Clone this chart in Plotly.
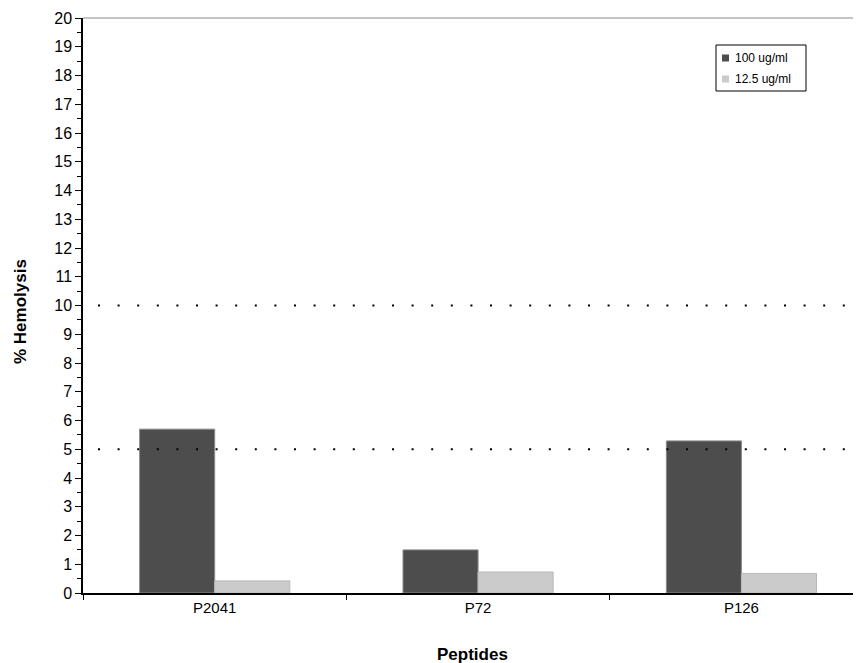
import plotly.graph_objects as go

categories = ["P2041", "P72", "P126"]
series_names = ["100 ug/ml", "12.5 ug/ml"]
series_colors = ["#4d4d4d", "#cbcbcb"]
values_100 = [5.70, 1.50, 5.29]
values_12_5 = [0.42, 0.73, 0.68]
threshold_lines = [10, 5]
y_ticks = list(range(0, 21))

OFF = 8  # page body margin
L, T, B, W, H = 83 - OFF, 18 - OFF, 70, 861 - OFF, 663 - OFF
PW, PH = W - L, H - T - B


def px(x):
    return (x - OFF - L) / PW


def py(y):
    return (H - B - (y - OFF)) / PH


fig = go.Figure()
fig.add_trace(go.Bar(x=categories, y=values_100, name=series_names[0],
                     marker=dict(color=series_colors[0], line=dict(color="#8a8a8a", width=1))))
fig.add_trace(go.Bar(x=categories, y=values_12_5, name=series_names[1],
                     marker=dict(color=series_colors[1], line=dict(color="#b8b8b8", width=1))))

for yv in threshold_lines:
    fig.add_shape(type="line", xref="paper", yref="y", x0=px(98), x1=1, y0=yv, y1=yv,
                  line=dict(color="black", width=2, dash="2px,17.6px"))

fig.add_shape(type="line", xref="paper", yref="paper", x0=0, x1=1, y0=1, y1=1,
              line=dict(color="#b0b0b0", width=1.5))

# legend box (drawn manually to match compact reference legend)
fig.add_shape(type="rect", xref="paper", yref="paper", x0=px(716), x1=px(806),
              y0=py(91), y1=py(45), line=dict(color="black", width=1), fillcolor="white")
for i, (name, col) in enumerate(zip(series_names, series_colors)):
    yc = 58 + i * 21
    fig.add_shape(type="rect", xref="paper", yref="paper", x0=px(722), x1=px(729),
                  y0=py(yc + 3.5), y1=py(yc - 3.5), line=dict(width=0), fillcolor=col)
    fig.add_annotation(x=px(733), y=py(yc), xref="paper", yref="paper", text=name,
                       showarrow=False, xanchor="left", yanchor="middle",
                       font=dict(size=12))

fig.add_annotation(x=px(472), y=py(654), xref="paper", yref="paper", text="<b>Peptides</b>",
                   showarrow=False, xanchor="center", yanchor="middle", font=dict(size=17))
fig.add_annotation(x=px(20), y=py(312), xref="paper", yref="paper", text="<b>% Hemolysis</b>",
                   showarrow=False, xanchor="center", yanchor="middle", textangle=-90,
                   font=dict(size=17))

fig.update_layout(
    width=W, height=H,
    margin=dict(l=L, r=0, t=T, b=B, autoexpand=False),
    plot_bgcolor="white", paper_bgcolor="white",
    font=dict(family="Liberation Sans, Arial, sans-serif", size=15, color="black"),
    barmode="group", bargap=0.43, bargroupgap=0,
    showlegend=False,
    xaxis=dict(range=[-0.5, 2.454], showgrid=False, showline=True, linecolor="black",
               linewidth=1.5, ticks="outside", tickson="boundaries", ticklen=5,
               tickcolor="black", automargin=False, tickfont=dict(size=15)),
    yaxis=dict(range=[0, 20], tickvals=y_ticks, showgrid=False, showline=True,
               linecolor="black", linewidth=1.5, ticks="outside", ticklen=6,
               tickcolor="black", zeroline=False, automargin=False,
               minor=dict(ticks="outside", ticklen=4, dtick=0.5, tickcolor="black"),
               tickfont=dict(size=16)),
)

fig.write_html("out.html")
